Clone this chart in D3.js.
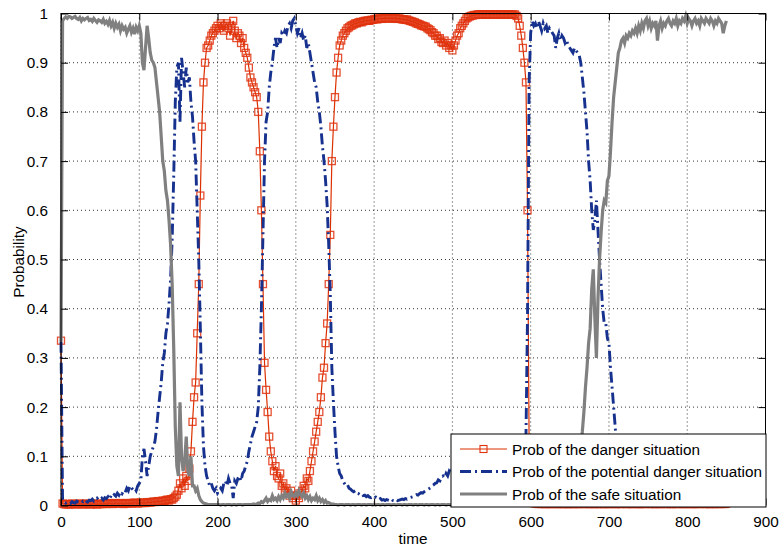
<!DOCTYPE html>
<html>
<head>
<meta charset="utf-8">
<script src="https://cdn.jsdelivr.net/npm/d3@7"></script>
<style>
    body { margin: 0; background: #fff; }
    text { font-family: "Liberation Sans", Arial, sans-serif; font-size: 15.3px; fill: #000; }
</style>
</head>
<body>
<div class="chartDiv"></div>
<script>
"use strict";

//
/* Data: */
//

// time axis (one sample every 2 time units)
var time = d3.range(0, 851, 2);

// Prob of the danger situation
var dangerProb = [
    0.335,0.004,0.003,0.002,0.003, 0.002,0.003,0.004,0.003,0.002, 0.003,0.003,0.004,0.003,0.002, 0.003,0.004,0.003,0.003,0.002, 0.003,0.004,0.003,0.002,0.003,
    0.003,0.004,0.003,0.004,0.003, 0.004,0.005,0.004,0.003,0.004, 0.005,0.004,0.004,0.005,0.004, 0.003,0.004,0.005,0.004,0.005, 0.004,0.005,0.006,0.005,0.004,
    0.005,0.006,0.005,0.006,0.005, 0.006,0.007,0.006,0.007,0.008, 0.007,0.008,0.009,0.008,0.009, 0.010,0.009,0.011,0.012,0.010, 0.013,0.012,0.015,0.018,0.022,
    0.030,0.045,0.035,0.055,0.040, 0.060,0.050,0.075,0.110,0.170, 0.220,0.250,0.350,0.450,0.630, 0.770,0.860,0.900,0.930,0.935, 0.945,0.955,0.960,0.965,0.970,
    0.975,0.970,0.980,0.975,0.965, 0.975,0.980,0.970,0.955,0.975, 0.985,0.965,0.950,0.960,0.955, 0.940,0.950,0.930,0.920,0.910, 0.890,0.870,0.860,0.850,0.840,
    0.830,0.800,0.720,0.600,0.450, 0.290,0.235,0.190,0.140,0.110, 0.090,0.070,0.080,0.060,0.055, 0.065,0.040,0.045,0.030,0.035, 0.025,0.020,0.030,0.015,0.020,
    0.010,0.020,0.015,0.025,0.030, 0.040,0.035,0.055,0.050,0.070, 0.090,0.110,0.130,0.150,0.170, 0.190,0.220,0.260,0.280,0.330, 0.370,0.450,0.550,0.700,0.770,
    0.830,0.880,0.910,0.935,0.945, 0.955,0.960,0.965,0.970,0.972, 0.975,0.976,0.978,0.980,0.980, 0.982,0.983,0.982,0.984,0.985, 0.985,0.986,0.985,0.987,0.987,
    0.988,0.989,0.988,0.990,0.990, 0.989,0.990,0.991,0.990,0.990, 0.990,0.991,0.990,0.990,0.990, 0.989,0.990,0.989,0.988,0.988, 0.987,0.988,0.986,0.985,0.984,
    0.983,0.982,0.980,0.979,0.978, 0.976,0.975,0.974,0.973,0.970, 0.968,0.966,0.962,0.960,0.955, 0.955,0.948,0.950,0.942,0.940, 0.945,0.935,0.940,0.930,0.935,
    0.925,0.935,0.945,0.955,0.960, 0.970,0.975,0.980,0.985,0.990, 0.992,0.994,0.995,0.996,0.997, 0.997,0.998,0.998,0.998,0.998, 0.998,0.998,0.998,0.998,0.998,
    0.998,0.998,0.998,0.998,0.998, 0.998,0.998,0.998,0.998,0.998, 0.998,0.998,0.998,0.998,0.998, 0.998,0.995,0.990,0.975,0.955, 0.930,0.900,0.860,0.600,0.130,
    0.030,0.008,0.005,0.004,0.004, 0.003,0.004,0.003,0.004,0.003, 0.003,0.004,0.003,0.003,0.004, 0.003,0.004,0.003,0.003,0.004, 0.003,0.003,0.004,0.003,0.003,
    0.003,0.004,0.003,0.003,0.004, 0.003,0.003,0.004,0.003,0.004, 0.003,0.004,0.003,0.003,0.004, 0.003,0.003,0.004,0.003,0.003, 0.004,0.003,0.003,0.004,0.003,
    0.003,0.004,0.003,0.004,0.003, 0.003,0.004,0.003,0.003,0.004, 0.004,0.003,0.003,0.004,0.003, 0.003,0.004,0.003,0.004,0.003, 0.003,0.003,0.004,0.003,0.004,
    0.004,0.003,0.003,0.004,0.003, 0.003,0.004,0.003,0.003,0.004, 0.003,0.004,0.003,0.004,0.003, 0.003,0.003,0.004,0.003,0.004, 0.003,0.004,0.003,0.003,0.004,
    0.003,0.004,0.003,0.003,0.004, 0.003,0.003,0.004,0.003,0.004, 0.004,0.003,0.003,0.004,0.003, 0.003,0.004,0.003,0.003,0.004, 0.003,0.004,0.003,0.004,0.003,
    0.004
];

// Prob of the potential danger situation
var potentialProb = [
    0.333,0.010,0.008,0.005,0.007, 0.006,0.004,0.008,0.006,0.005, 0.009,0.007,0.006,0.010,0.008, 0.012,0.009,0.007,0.011,0.010, 0.013,0.009,0.012,0.015,0.011,
    0.012,0.015,0.011,0.016,0.014, 0.018,0.013,0.020,0.017,0.022, 0.019,0.025,0.021,0.028,0.024, 0.030,0.027,0.035,0.030,0.040, 0.036,0.032,0.035,0.030,0.040,
    0.045,0.050,0.100,0.115,0.090, 0.060,0.080,0.100,0.110,0.120, 0.130,0.155,0.190,0.220,0.250, 0.290,0.310,0.350,0.370,0.410, 0.460,0.540,0.670,0.820,0.890,
    0.900,0.780,0.910,0.880,0.850, 0.890,0.860,0.870,0.820,0.790, 0.740,0.700,0.600,0.500,0.360, 0.210,0.120,0.080,0.060,0.050, 0.040,0.045,0.035,0.030,0.035,
    0.025,0.030,0.035,0.030,0.045, 0.050,0.040,0.055,0.045,0.040, 0.015,0.050,0.045,0.055,0.060, 0.050,0.065,0.070,0.080,0.090, 0.110,0.125,0.140,0.150,0.160,
    0.170,0.200,0.280,0.400,0.550, 0.700,0.780,0.800,0.850,0.880, 0.900,0.930,0.950,0.930,0.950, 0.940,0.960,0.955,0.965,0.960, 0.975,0.980,0.970,0.985,0.990,
    0.975,0.960,0.970,0.950,0.960, 0.945,0.955,0.930,0.940,0.920, 0.900,0.880,0.860,0.850,0.820, 0.800,0.770,0.730,0.700,0.660, 0.610,0.530,0.430,0.280,0.210,
    0.150,0.100,0.080,0.065,0.060, 0.050,0.045,0.040,0.042,0.035, 0.033,0.030,0.028,0.030,0.025, 0.024,0.022,0.024,0.020,0.021, 0.018,0.020,0.017,0.016,0.018,
    0.015,0.017,0.013,0.012,0.014, 0.011,0.012,0.010,0.012,0.011, 0.010,0.013,0.010,0.009,0.012, 0.010,0.011,0.012,0.013,0.012, 0.014,0.013,0.015,0.016,0.017,
    0.018,0.020,0.022,0.021,0.024, 0.026,0.025,0.028,0.030,0.032, 0.034,0.036,0.040,0.042,0.045, 0.046,0.052,0.050,0.058,0.060, 0.056,0.065,0.060,0.070,0.066,
    0.075,0.065,0.055,0.045,0.040, 0.030,0.025,0.020,0.015,0.010, 0.008,0.006,0.005,0.004,0.003, 0.003,0.002,0.003,0.002,0.002, 0.002,0.002,0.002,0.002,0.002,
    0.002,0.002,0.002,0.002,0.002, 0.002,0.002,0.002,0.002,0.002, 0.002,0.002,0.002,0.002,0.002, 0.003,0.005,0.010,0.025,0.045, 0.070,0.100,0.140,0.390,0.860,
    0.960,0.985,0.975,0.980,0.970, 0.985,0.975,0.965,0.980,0.970, 0.975,0.960,0.970,0.965,0.960, 0.955,0.930,0.950,0.960,0.945, 0.955,0.950,0.940,0.945,0.935,
    0.930,0.925,0.920,0.930,0.925, 0.920,0.915,0.900,0.870,0.840, 0.800,0.760,0.700,0.660,0.600, 0.560,0.580,0.620,0.560,0.500, 0.450,0.400,0.370,0.370,0.340,
    0.330,0.280,0.240,0.200,0.160, 0.110,0.070,0.050,0.035,0.025, 0.020,0.015,0.015,0.012,0.010, 0.010,0.009,0.010,0.008,0.009, 0.008,0.009,0.008,0.007,0.008,
    0.008,0.007,0.009,0.008,0.007, 0.008,0.009,0.007,0.008,0.008, 0.007,0.008,0.009,0.007,0.008, 0.008,0.007,0.008,0.009,0.007, 0.008,0.007,0.008,0.007,0.008,
    0.007,0.008,0.009,0.008,0.007, 0.008,0.007,0.008,0.009,0.008, 0.007,0.008,0.008,0.007,0.009, 0.008,0.007,0.008,0.008,0.007, 0.008,0.009,0.008,0.007,0.008,
    0.008
];

// Prob of the safe situation
var safeProb = [
    0.333,0.985,0.990,0.993,0.990, 0.994,0.993,0.990,0.992,0.994, 0.990,0.988,0.992,0.985,0.990, 0.987,0.990,0.992,0.986,0.988, 0.984,0.990,0.986,0.982,0.987,
    0.985,0.982,0.988,0.980,0.984, 0.978,0.986,0.975,0.982,0.970, 0.980,0.972,0.978,0.965,0.975, 0.968,0.972,0.960,0.968,0.975, 0.962,0.970,0.958,0.972,0.965,
    0.975,0.960,0.900,0.885,0.930, 0.975,0.950,0.920,0.905,0.900, 0.890,0.860,0.830,0.800,0.750, 0.700,0.680,0.640,0.620,0.580, 0.530,0.450,0.320,0.160,0.080,
    0.060,0.210,0.100,0.070,0.090, 0.140,0.070,0.060,0.100,0.040, 0.040,0.030,0.035,0.020,0.012, 0.008,0.005,0.004,0.003,0.002, 0.002,0.002,0.002,0.002,0.002,
    0.002,0.002,0.001,0.002,0.002, 0.001,0.002,0.002,0.002,0.001, 0.002,0.002,0.001,0.002,0.002, 0.002,0.001,0.002,0.002,0.002, 0.002,0.002,0.002,0.003,0.002,
    0.003,0.005,0.004,0.008,0.006, 0.010,0.015,0.008,0.012,0.010, 0.020,0.012,0.015,0.010,0.018, 0.012,0.020,0.015,0.025,0.018, 0.022,0.015,0.028,0.020,0.018,
    0.025,0.020,0.030,0.022,0.018, 0.025,0.015,0.020,0.012,0.018, 0.010,0.015,0.012,0.020,0.010, 0.015,0.008,0.012,0.006,0.010, 0.005,0.006,0.004,0.003,0.003,
    0.002,0.002,0.001,0.002,0.002, 0.002,0.001,0.002,0.002,0.002, 0.001,0.002,0.002,0.001,0.002, 0.002,0.002,0.001,0.002,0.002, 0.001,0.002,0.002,0.002,0.001,
    0.002,0.001,0.002,0.002,0.001, 0.002,0.002,0.001,0.002,0.002, 0.002,0.001,0.002,0.002,0.001, 0.002,0.002,0.002,0.001,0.002, 0.002,0.001,0.002,0.002,0.002,
    0.001,0.002,0.002,0.001,0.002, 0.002,0.002,0.001,0.002,0.002, 0.001,0.002,0.002,0.002,0.001, 0.002,0.002,0.001,0.002,0.002, 0.002,0.001,0.002,0.002,0.001,
    0.002,0.002,0.001,0.002,0.002, 0.001,0.002,0.002,0.002,0.001, 0.002,0.001,0.002,0.002,0.002, 0.001,0.002,0.002,0.001,0.002, 0.002,0.002,0.001,0.002,0.002,
    0.001,0.002,0.002,0.002,0.001, 0.002,0.002,0.001,0.002,0.002, 0.002,0.001,0.002,0.002,0.001, 0.002,0.002,0.002,0.001,0.002, 0.002,0.002,0.002,0.003,0.002,
    0.002,0.002,0.002,0.001,0.002, 0.002,0.001,0.002,0.002,0.002, 0.001,0.002,0.002,0.001,0.002, 0.002,0.002,0.001,0.002,0.002, 0.002,0.001,0.002,0.002,0.003,
    0.004,0.005,0.008,0.012,0.020, 0.040,0.080,0.120,0.150,0.190, 0.240,0.280,0.330,0.360,0.440, 0.480,0.380,0.300,0.420,0.500, 0.555,0.600,0.620,0.615,0.660,
    0.670,0.720,0.780,0.830,0.860, 0.890,0.920,0.930,0.945,0.950, 0.940,0.955,0.950,0.960,0.955, 0.965,0.960,0.970,0.960,0.975, 0.965,0.980,0.970,0.985,0.990,
    0.975,0.985,0.970,0.980,0.975, 0.985,0.945,0.975,0.985,0.970, 0.980,0.975,0.985,0.990,0.980, 0.975,0.985,0.980,0.990,0.975, 0.985,0.980,0.990,0.985,0.995,
    0.980,0.990,0.985,0.975,0.985, 0.990,0.980,0.985,0.975,0.990, 0.985,0.980,0.990,0.985,0.980, 0.990,0.985,0.975,0.985,0.980, 0.990,0.985,0.980,0.960,0.975,
    0.985
];

// Ticks and labels
var xTicks = [0, 100, 200, 300, 400, 500, 600, 700, 800, 900];
var yTicks = [0, 0.1, 0.2, 0.3, 0.4, 0.5, 0.6, 0.7, 0.8, 0.9, 1];
var legendLabels = ["Prob of the danger situation", "Prob of the potential danger situation", "Prob of the safe situation"];


//
/* Chart: */
//

var width = 779;
var height = 549;

var plot = { left: 61, right: 765.5, top: 13.5, bottom: 505.5 };

var dangerColor = "#dc3000";
var markerColor = "#e0320e";
var potentialColor = "#17318e";
var safeColor = "#808080";

var xScale = d3.scaleLinear().domain([0, 900]).range([plot.left, plot.right]);
var yScale = d3.scaleLinear().domain([0, 1]).range([plot.bottom, plot.top]);

var svg = d3.select(".chartDiv").append("svg")
                .attr("width", width)
                .attr("height", height);

// grid
var grid = svg.append("g").attr("class", "grid");

grid.selectAll(".vgrid")
    .data(xTicks).enter()
    .append("line")
    .attr("x1", function(d) { return xScale(d); })
    .attr("x2", function(d) { return xScale(d); })
    .attr("y1", plot.top)
    .attr("y2", plot.bottom)
    .attr("stroke", "#000")
    .attr("stroke-width", 0.8)
    .attr("stroke-dasharray", "1,3");

grid.selectAll(".hgrid")
    .data(yTicks).enter()
    .append("line")
    .attr("x1", plot.left)
    .attr("x2", plot.right)
    .attr("y1", function(d) { return yScale(d); })
    .attr("y2", function(d) { return yScale(d); })
    .attr("stroke", "#000")
    .attr("stroke-width", 0.8)
    .attr("stroke-dasharray", "1,3");

// series
var makeLine = function(values)
{
    return d3.line()
            .x(function(d, i) { return xScale(time[i]); })
            .y(function(d) { return yScale(d); })(values);
}

svg.append("path")
    .attr("d", makeLine(dangerProb))
    .attr("fill", "none")
    .attr("stroke", dangerColor)
    .attr("stroke-width", 1.2);

svg.append("g").attr("class", "markers")
    .selectAll("rect")
    .data(dangerProb).enter()
    .append("rect")
    .attr("x", function(d, i) { return xScale(time[i]) - 3.5; })
    .attr("y", function(d) { return yScale(d) - 3.5; })
    .attr("width", 7)
    .attr("height", 7)
    .attr("fill", "none")
    .attr("stroke", markerColor)
    .attr("stroke-opacity", 0.85)
    .attr("stroke-width", 1.3);

svg.append("path")
    .attr("d", makeLine(potentialProb))
    .attr("fill", "none")
    .attr("stroke", potentialColor)
    .attr("stroke-width", 2.9)
    .attr("stroke-dasharray", "11,4,2,4");

svg.append("path")
    .attr("d", makeLine(safeProb))
    .attr("fill", "none")
    .attr("stroke", safeColor)
    .attr("stroke-width", 3.2);

// axes box and ticks
var axes = svg.append("g").attr("class", "axes");

axes.append("rect")
    .attr("x", plot.left)
    .attr("y", plot.top)
    .attr("width", plot.right - plot.left)
    .attr("height", plot.bottom - plot.top)
    .attr("fill", "none")
    .attr("stroke", "#000")
    .attr("stroke-width", 1);

axes.append("g")
    .attr("transform", "translate(0," + plot.bottom + ")")
    .call(d3.axisBottom(xScale).tickValues(xTicks).tickSize(-7).tickPadding(11).tickFormat(d3.format("d")));

axes.append("g")
    .attr("transform", "translate(0," + plot.top + ")")
    .call(d3.axisTop(xScale).tickValues(xTicks).tickSize(-7).tickFormat(""));

axes.append("g")
    .attr("transform", "translate(" + plot.left + ",0)")
    .call(d3.axisLeft(yScale).tickValues(yTicks).tickSize(-7).tickPadding(13).tickFormat(function(d) { return String(+d.toFixed(1)); }));

axes.append("g")
    .attr("transform", "translate(" + plot.right + ",0)")
    .call(d3.axisRight(yScale).tickValues(yTicks).tickSize(-7).tickFormat(""));

axes.selectAll(".domain").remove();
axes.selectAll(".tick line").attr("stroke", "#000");
axes.selectAll(".tick text")
    .attr("font-family", "Liberation Sans, Arial, sans-serif")
    .attr("font-size", 15.3)
    .attr("fill", "#000");

// axis labels
svg.append("text")
    .attr("x", 413)
    .attr("y", 544)
    .attr("text-anchor", "middle")
    .text("time");

svg.append("text")
    .attr("transform", "translate(24,262) rotate(-90)")
    .attr("text-anchor", "middle")
    .text("Probability");

// legend
var legend = svg.append("g").attr("class", "legend");

legend.append("rect")
    .attr("x", 451)
    .attr("y", 434)
    .attr("width", 315)
    .attr("height", 73)
    .attr("fill", "#fff")
    .attr("stroke", "#000")
    .attr("stroke-width", 1);

var legendRows = [
    { color: dangerColor, width: 1.2, dash: null },
    { color: potentialColor, width: 2.9, dash: "11,4,2,4" },
    { color: safeColor, width: 3.2, dash: null }
];

var rowY = [449, 471.5, 494];

legend.selectAll(".sample")
    .data(legendRows).enter()
    .append("line")
    .attr("x1", 460)
    .attr("x2", 507)
    .attr("y1", function(d, i) { return rowY[i]; })
    .attr("y2", function(d, i) { return rowY[i]; })
    .attr("stroke", function(d) { return d.color; })
    .attr("stroke-width", function(d) { return d.width; })
    .attr("stroke-dasharray", function(d) { return d.dash; });

legend.append("rect")
    .attr("x", 483.5 - 3.5)
    .attr("y", rowY[0] - 3.5)
    .attr("width", 7)
    .attr("height", 7)
    .attr("fill", "none")
    .attr("stroke", markerColor)
    .attr("stroke-width", 1.1);

legend.selectAll(".label")
    .data(legendLabels).enter()
    .append("text")
    .attr("x", 512)
    .attr("y", function(d, i) { return rowY[i]; })
    .attr("dy", "0.36em")
    .text(function(d) { return d; });
</script>
</body>
</html>
